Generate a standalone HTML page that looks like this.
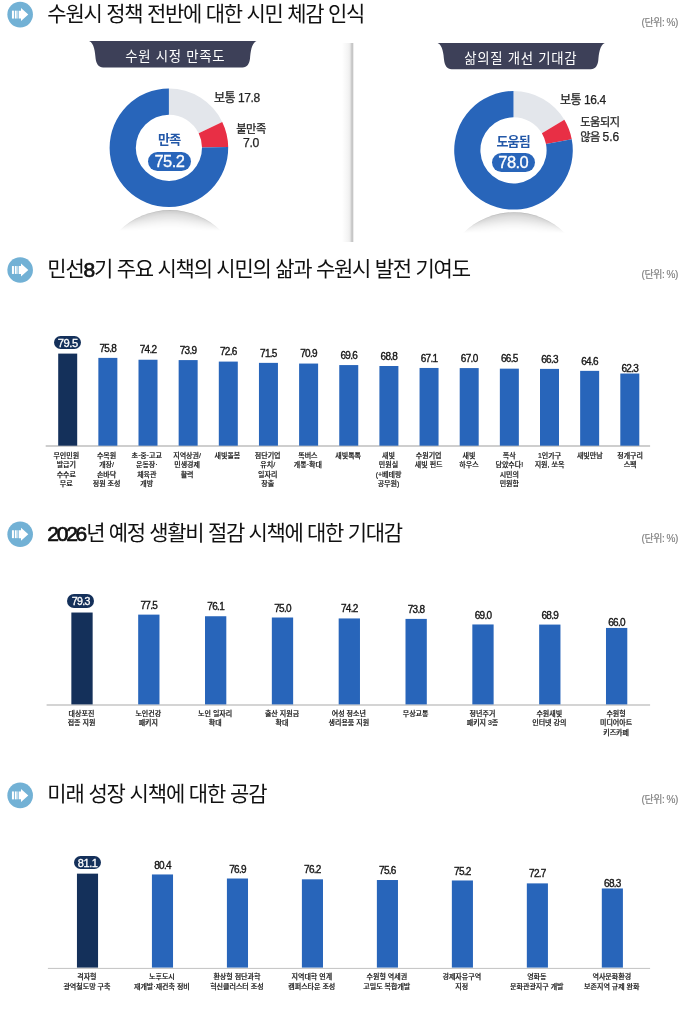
<!DOCTYPE html>
<html lang="ko"><head><meta charset="utf-8"><title>수원시 정책 시민 체감 인식</title>
<style>
html,body{margin:0;padding:0;background:#fff;}
body{width:680px;height:1022px;position:relative;overflow:hidden;font-family:"Liberation Sans","Noto Sans CJK KR",sans-serif;color:#1a1a1a;}
svg{position:absolute;left:0;top:0;}
.t{position:absolute;white-space:nowrap;}
.title{left:47.3px;font-size:21px;font-weight:400;letter-spacing:-1.24px;line-height:30px;height:30px;color:#111;}
.title b{font-weight:400;letter-spacing:-2.25px;-webkit-text-stroke:0.7px #111;position:relative;top:1px;margin-right:1.2px;}
.unit{left:641.5px;font-size:10px;color:#808080;letter-spacing:-0.45px;line-height:12px;-webkit-text-stroke:0.15px #808080;}
.ptxt{color:#fff;font-size:13.4px;font-weight:400;letter-spacing:0.7px;text-align:center;line-height:27px;}
.val{font-size:10px;letter-spacing:-0.7px;line-height:12px;width:40px;text-align:center;color:#161616;-webkit-text-stroke:0.35px #161616;}
.valp{font-size:12px;letter-spacing:-0.9px;line-height:14px;color:#fff;text-align:center;border-radius:7px;background:#14305A;-webkit-text-stroke:0.3px #fff;}
.valp span{display:inline-block;margin-left:0.2px;}
.lab{font-size:7px;letter-spacing:0px;line-height:9.5px;width:80px;text-align:center;color:#1a1a1a;font-weight:500;-webkit-text-stroke:0.2px #1a1a1a;white-space:pre;}
.dl{font-size:12px;letter-spacing:-0.45px;line-height:15px;color:#222;-webkit-text-stroke:0.25px #222;}
.dl2{font-size:11.2px;letter-spacing:-0.5px;line-height:14.5px;}
.dl2 i{font-style:normal;font-size:12.2px;letter-spacing:-0.3px;}
.dc{font-size:13px;font-weight:700;color:#2358A8;letter-spacing:-0.8px;text-align:center;line-height:16px;}
.dv{font-size:16.5px;color:#fff;letter-spacing:-0.6px;text-align:center;border-radius:9.5px;background:#2865BA;line-height:19px;height:19px;-webkit-text-stroke:0.3px #fff;text-indent:-1px;}
</style></head><body>

<svg width="680" height="1022" viewBox="0 0 680 1022">
<defs>
<linearGradient id="dv" x1="0" x2="1" y1="0" y2="0"><stop offset="0" stop-color="#ffffff"/><stop offset="0.5" stop-color="#f3f3f3"/><stop offset="0.66" stop-color="#e9e9e9"/><stop offset="0.72" stop-color="#cfcfcf"/><stop offset="0.84" stop-color="#c6c6c6"/><stop offset="0.92" stop-color="#ececec"/><stop offset="1" stop-color="#ffffff"/></linearGradient>

</defs>
<circle cx="20.15" cy="14.6" r="12.8" fill="#72B1D5"/><g fill="#fff"><rect x="11.95" y="10.65" width="2" height="7.9"/><rect x="14.85" y="10.65" width="1.8" height="7.9"/><rect x="17.4" y="10.65" width="0.9" height="7.9" opacity="0.85"/><path d="M18.9,10.65 L21,10.65 L21,8.10 L28.3,14.60 L21,21.10 L21,18.55 L18.9,18.55 Z"/></g>
<circle cx="20.15" cy="270" r="12.8" fill="#72B1D5"/><g fill="#fff"><rect x="11.95" y="266.05" width="2" height="7.9"/><rect x="14.85" y="266.05" width="1.8" height="7.9"/><rect x="17.4" y="266.05" width="0.9" height="7.9" opacity="0.85"/><path d="M18.9,266.05 L21,266.05 L21,263.50 L28.3,270.00 L21,276.50 L21,273.95 L18.9,273.95 Z"/></g>
<circle cx="20.15" cy="534.2" r="12.8" fill="#72B1D5"/><g fill="#fff"><rect x="11.95" y="530.25" width="2" height="7.9"/><rect x="14.85" y="530.25" width="1.8" height="7.9"/><rect x="17.4" y="530.25" width="0.9" height="7.9" opacity="0.85"/><path d="M18.9,530.25 L21,530.25 L21,527.70 L28.3,534.20 L21,540.70 L21,538.15 L18.9,538.15 Z"/></g>
<circle cx="20.15" cy="795.4" r="12.8" fill="#72B1D5"/><g fill="#fff"><rect x="11.95" y="791.45" width="2" height="7.9"/><rect x="14.85" y="791.45" width="1.8" height="7.9"/><rect x="17.4" y="791.45" width="0.9" height="7.9" opacity="0.85"/><path d="M18.9,791.45 L21,791.45 L21,788.90 L28.3,795.40 L21,801.90 L21,799.35 L18.9,799.35 Z"/></g>
<rect x="342" y="43" width="12.5" height="199" fill="url(#dv)"/>
<path d="M103.10,67.50 C98.60,67.50 96.10,63.50 95.60,58.50 C95.10,52.50 94.20,43.00 89.10,41.00 L256.50,41.00 C251.40,43.00 250.50,52.50 250.00,58.50 C249.50,63.50 247.00,67.50 242.50,67.50 Z" fill="#3D4058"/>
<path d="M451.60,69.30 C447.10,69.30 444.60,65.30 444.10,60.30 C443.60,54.30 442.70,45.00 437.60,43.00 L604.80,43.00 C599.70,45.00 598.80,54.30 598.30,60.30 C597.80,65.30 595.30,69.30 590.80,69.30 Z" fill="#3D4058"/>
<defs><radialGradient id="sh0" gradientUnits="userSpaceOnUse" cx="170" cy="282.5" r="72.5"><stop offset="0.68" stop-color="#000" stop-opacity="0"/><stop offset="0.82" stop-color="#000" stop-opacity="0.07"/><stop offset="0.94" stop-color="#000" stop-opacity="0.15"/><stop offset="0.985" stop-color="#000" stop-opacity="0.2"/><stop offset="1" stop-color="#000" stop-opacity="0.3"/></radialGradient><linearGradient id="shm0" gradientUnits="userSpaceOnUse" x1="0" x2="0" y1="210" y2="232"><stop offset="0" stop-color="#fff"/><stop offset="0.4" stop-color="#fff" stop-opacity="0.75"/><stop offset="0.95" stop-color="#fff" stop-opacity="0"/></linearGradient><mask id="m0"><rect x="110" y="208" width="120" height="26" fill="url(#shm0)"/></mask></defs>
<path d="M119,231 A72.5,72.5 0 0 1 221,231 Z" fill="url(#sh0)" mask="url(#m0)"/>
<defs><radialGradient id="sh1" gradientUnits="userSpaceOnUse" cx="514" cy="284.7" r="72.5"><stop offset="0.68" stop-color="#000" stop-opacity="0"/><stop offset="0.82" stop-color="#000" stop-opacity="0.07"/><stop offset="0.94" stop-color="#000" stop-opacity="0.15"/><stop offset="0.985" stop-color="#000" stop-opacity="0.2"/><stop offset="1" stop-color="#000" stop-opacity="0.3"/></radialGradient><linearGradient id="shm1" gradientUnits="userSpaceOnUse" x1="0" x2="0" y1="212.2" y2="234.2"><stop offset="0" stop-color="#fff"/><stop offset="0.4" stop-color="#fff" stop-opacity="0.75"/><stop offset="0.95" stop-color="#fff" stop-opacity="0"/></linearGradient><mask id="m1"><rect x="454" y="210.2" width="120" height="26" fill="url(#shm1)"/></mask></defs>
<path d="M463,233.2 A72.5,72.5 0 0 1 565,233.2 Z" fill="url(#sh1)" mask="url(#m1)"/>
<path d="M168.90,88.50 A59.3,59.3 0 0 1 222.23,121.88 L198.67,133.33 A33.1,33.1 0 0 0 168.90,114.70 Z" fill="#E3E6EB"/>
<path d="M222.23,121.88 A59.3,59.3 0 0 1 228.20,147.05 L202.00,147.38 A33.1,33.1 0 0 0 198.67,133.33 Z" fill="#E82F45"/>
<path d="M228.20,147.05 A59.3,59.3 0 1 1 168.90,88.50 L168.90,114.70 A33.1,33.1 0 1 0 202.00,147.38 Z" fill="#2865BA"/>
<path d="M513.50,91.00 A59.3,59.3 0 0 1 564.35,119.79 L541.88,133.27 A33.1,33.1 0 0 0 513.50,117.20 Z" fill="#E3E6EB"/>
<path d="M564.35,119.79 A59.3,59.3 0 0 1 571.75,139.19 L546.01,144.10 A33.1,33.1 0 0 0 541.88,133.27 Z" fill="#E82F45"/>
<path d="M571.75,139.19 A59.3,59.3 0 1 1 513.50,91.00 L513.50,117.20 A33.1,33.1 0 1 0 546.01,144.10 Z" fill="#2865BA"/>
<rect x="45.7" y="445.2" width="604.4" height="1.60" fill="#c2c2c2"/>
<rect x="58.20" y="353.60" width="19" height="92.10" fill="#14305A"/>
<rect x="98.35" y="357.89" width="19" height="87.81" fill="#2865BA"/>
<rect x="138.50" y="359.74" width="19" height="85.96" fill="#2865BA"/>
<rect x="178.65" y="360.09" width="19" height="85.61" fill="#2865BA"/>
<rect x="218.80" y="361.59" width="19" height="84.11" fill="#2865BA"/>
<rect x="258.95" y="362.87" width="19" height="82.83" fill="#2865BA"/>
<rect x="299.10" y="363.56" width="19" height="82.14" fill="#2865BA"/>
<rect x="339.25" y="365.07" width="19" height="80.63" fill="#2865BA"/>
<rect x="379.40" y="366.00" width="19" height="79.70" fill="#2865BA"/>
<rect x="419.55" y="367.96" width="19" height="77.74" fill="#2865BA"/>
<rect x="459.70" y="368.08" width="19" height="77.62" fill="#2865BA"/>
<rect x="499.85" y="368.66" width="19" height="77.04" fill="#2865BA"/>
<rect x="540.00" y="368.89" width="19" height="76.81" fill="#2865BA"/>
<rect x="580.15" y="370.86" width="19" height="74.84" fill="#2865BA"/>
<rect x="620.30" y="373.53" width="19" height="72.17" fill="#2865BA"/>
<rect x="46.6" y="704.3" width="603.5" height="1.40" fill="#c2c2c2"/>
<rect x="71.35" y="612.53" width="21.3" height="91.87" fill="#14305A"/>
<rect x="138.18" y="614.62" width="21.3" height="89.78" fill="#2865BA"/>
<rect x="205.01" y="616.24" width="21.3" height="88.16" fill="#2865BA"/>
<rect x="271.84" y="617.51" width="21.3" height="86.89" fill="#2865BA"/>
<rect x="338.67" y="618.44" width="21.3" height="85.96" fill="#2865BA"/>
<rect x="405.50" y="618.90" width="21.3" height="85.50" fill="#2865BA"/>
<rect x="472.33" y="624.46" width="21.3" height="79.94" fill="#2865BA"/>
<rect x="539.16" y="624.58" width="21.3" height="79.82" fill="#2865BA"/>
<rect x="605.99" y="627.94" width="21.3" height="76.46" fill="#2865BA"/>
<rect x="47.9" y="967.9" width="602.2" height="1.00" fill="#c2c2c2"/>
<rect x="76.95" y="873.65" width="21.1" height="93.95" fill="#14305A"/>
<rect x="151.93" y="874.46" width="21.1" height="93.14" fill="#2865BA"/>
<rect x="226.91" y="878.51" width="21.1" height="89.09" fill="#2865BA"/>
<rect x="301.89" y="879.32" width="21.1" height="88.28" fill="#2865BA"/>
<rect x="376.87" y="880.02" width="21.1" height="87.58" fill="#2865BA"/>
<rect x="451.85" y="880.48" width="21.1" height="87.12" fill="#2865BA"/>
<rect x="526.83" y="883.38" width="21.1" height="84.22" fill="#2865BA"/>
<rect x="601.81" y="888.47" width="21.1" height="79.13" fill="#2865BA"/>
</svg>
<div class="t title" style="top:-0.7px;letter-spacing:-1.24px">수원시 정책 전반에 대한 시민 체감 인식</div>
<div class="t title" style="top:254px;letter-spacing:-1.24px">민선<b>8</b>기 주요 시책의 시민의 삶과 수원시 발전 기여도</div>
<div class="t title" style="top:518.4px;letter-spacing:-1.3px"><b>2026</b>년 예정 생활비 절감 시책에 대한 기대감</div>
<div class="t title" style="top:779.1px;letter-spacing:-1.12px">미래 성장 시책에 대한 공감</div>
<div class="t unit" style="top:16.8px">(단위: %)</div>
<div class="t unit" style="top:268.5px">(단위: %)</div>
<div class="t unit" style="top:532.5px">(단위: %)</div>
<div class="t unit" style="top:793.5px">(단위: %)</div>
<div class="t ptxt" style="left:91.5px;top:42.9px;width:167.5px">수원 시정 만족도</div>
<div class="t ptxt" style="left:437.2px;top:44.6px;width:167.2px">삶의질 개선 기대감</div>
<div class="t dc" style="left:139.2px;top:132px;width:60px">만족</div>
<div class="t dv" style="left:148.4px;top:151.6px;width:43px">75.2</div>
<div class="t dl" style="left:214px;top:91.4px">보통 17.8</div>
<div class="t dl dl2" style="left:221px;top:121.6px;width:60px;text-align:center">불만족<br><i>7.0</i></div>
<div class="t dc" style="left:483.2px;top:133.8px;width:60px">도움됨</div>
<div class="t dv" style="left:492px;top:153.4px;width:43.4px">78.0</div>
<div class="t dl" style="left:560px;top:93.4px">보통 16.4</div>
<div class="t dl dl2" style="left:580.3px;top:115px">도움되지<br>않음 <i style="font-size:12px;letter-spacing:0">5.6</i></div>
<div class="t valp" style="left:54.3px;top:335.6px;width:26.7px;height:13.2px;line-height:14.399999999999999px;font-size:11.2px;letter-spacing:-0.4px"><span>79.5</span></div>
<div class="t lab" style="left:26.3px;top:450.9px">무인민원
발급기
수수료
무료</div>
<div class="t val" style="left:87.8px;top:342.5px">75.8</div>
<div class="t lab" style="left:66.6px;top:450.9px">수목원
개장/
손바닥
정원 조성</div>
<div class="t val" style="left:128.0px;top:344.3px">74.2</div>
<div class="t lab" style="left:106.8px;top:450.9px">초·중·고교
운동장·
체육관
개방</div>
<div class="t val" style="left:168.1px;top:344.7px">73.9</div>
<div class="t lab" style="left:147.1px;top:450.9px">지역상권/
민생경제
활력</div>
<div class="t val" style="left:208.3px;top:346.2px">72.6</div>
<div class="t lab" style="left:187.4px;top:450.9px">새빛돌봄</div>
<div class="t val" style="left:248.4px;top:347.5px">71.5</div>
<div class="t lab" style="left:227.7px;top:450.9px">첨단기업
유치/
일자리
창출</div>
<div class="t val" style="left:288.6px;top:348.2px">70.9</div>
<div class="t lab" style="left:267.9px;top:450.9px">똑버스
개통·확대</div>
<div class="t val" style="left:328.8px;top:349.7px">69.6</div>
<div class="t lab" style="left:308.2px;top:450.9px">새빛톡톡</div>
<div class="t val" style="left:368.9px;top:350.6px">68.8</div>
<div class="t lab" style="left:348.5px;top:450.9px">새빛
민원실
(+베테랑
공무원)</div>
<div class="t val" style="left:409.0px;top:352.6px">67.1</div>
<div class="t lab" style="left:388.7px;top:450.9px">수원기업
새빛 펀드</div>
<div class="t val" style="left:449.2px;top:352.7px">67.0</div>
<div class="t lab" style="left:429.0px;top:450.9px">새빛
하우스</div>
<div class="t val" style="left:489.3px;top:353.3px">66.5</div>
<div class="t lab" style="left:469.3px;top:450.9px">폭삭
담았수다!
시민의
민원함</div>
<div class="t val" style="left:529.5px;top:353.5px">66.3</div>
<div class="t lab" style="left:509.5px;top:450.9px">1인가구
지원, 쏘옥</div>
<div class="t val" style="left:569.6px;top:355.5px">64.6</div>
<div class="t lab" style="left:549.8px;top:450.9px">새빛만남</div>
<div class="t val" style="left:609.8px;top:362.5px">62.3</div>
<div class="t lab" style="left:590.1px;top:450.9px">청개구리
스펙</div>
<div class="t valp" style="left:67.3px;top:594.1px;width:26.8px;height:13.5px;line-height:14.7px;font-size:10.6px;letter-spacing:-0.6px"><span>79.3</span></div>
<div class="t lab" style="left:41.5px;top:708.6px">대상포진
접종 지원</div>
<div class="t val" style="left:128.8px;top:599.6px">77.5</div>
<div class="t lab" style="left:108.3px;top:708.6px">노인건강
패키지</div>
<div class="t val" style="left:195.7px;top:601.2px">76.1</div>
<div class="t lab" style="left:175.2px;top:708.6px">노인 일자리
확대</div>
<div class="t val" style="left:262.5px;top:602.5px">75.0</div>
<div class="t lab" style="left:242.0px;top:708.6px">출산 지원금
확대</div>
<div class="t val" style="left:329.3px;top:603.4px">74.2</div>
<div class="t lab" style="left:308.8px;top:708.6px">여성 청소년
생리용품 지원</div>
<div class="t val" style="left:396.1px;top:603.9px">73.8</div>
<div class="t lab" style="left:375.6px;top:708.6px">무상교통</div>
<div class="t val" style="left:463.0px;top:609.5px">69.0</div>
<div class="t lab" style="left:442.5px;top:708.6px">청년주거
패키지 3종</div>
<div class="t val" style="left:529.8px;top:609.6px">68.9</div>
<div class="t lab" style="left:509.3px;top:708.6px">수원새빛
인터넷 강의</div>
<div class="t val" style="left:596.6px;top:617.3px">66.0</div>
<div class="t lab" style="left:576.1px;top:708.6px">수원형
미디어아트
키즈카페</div>
<div class="t valp" style="left:74.4px;top:855.7px;width:26.3px;height:13.3px;line-height:14.5px;font-size:11px;letter-spacing:-0.45px"><span>81.1</span></div>
<div class="t lab" style="left:46.9px;top:972.1px">격자형
광역철도망 구축</div>
<div class="t val" style="left:142.5px;top:859.5px">80.4</div>
<div class="t lab" style="left:121.9px;top:972.1px">노후도시
재개발·재건축 정비</div>
<div class="t val" style="left:217.5px;top:863.5px">76.9</div>
<div class="t lab" style="left:196.9px;top:972.1px">환상형 첨단과학
혁신클러스터 조성</div>
<div class="t val" style="left:292.4px;top:864.3px">76.2</div>
<div class="t lab" style="left:271.8px;top:972.1px">지역대학 연계
캠퍼스타운 조성</div>
<div class="t val" style="left:367.4px;top:865.0px">75.6</div>
<div class="t lab" style="left:346.8px;top:972.1px">수원형 역세권
고밀도 복합개발</div>
<div class="t val" style="left:442.4px;top:865.5px">75.2</div>
<div class="t lab" style="left:421.8px;top:972.1px">경제자유구역
지정</div>
<div class="t val" style="left:517.4px;top:868.4px">72.7</div>
<div class="t lab" style="left:496.8px;top:972.1px">영화동
문화관광지구 개발</div>
<div class="t val" style="left:592.4px;top:877.9px">68.3</div>
<div class="t lab" style="left:571.8px;top:972.1px">역사문화환경
보존지역 규제 완화</div>
</body></html>
